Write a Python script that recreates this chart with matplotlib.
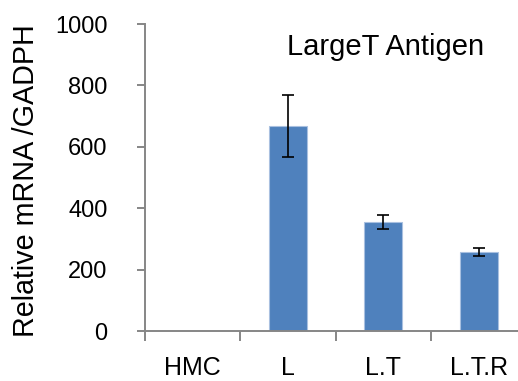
import matplotlib
matplotlib.use('Agg')
import matplotlib.pyplot as plt

plt.rcParams['font.family'] = ['Liberation Sans', 'DejaVu Sans']

groups = ['HMC', 'L', 'L.T', 'L.T.R']
expression = [0, 668, 355, 258]
errors = [0, 101, 23, 13]

axis_grey = '#868686'

fig = plt.figure(figsize=(5.18, 3.81), dpi=100)
ax = fig.add_axes([0.280, 0.131, 0.736, 0.806])

x = range(len(groups))
ax.bar(x, expression, width=0.4, color='#4F81BD', edgecolor='#A9C0E0',
       linewidth=0.8, zorder=2)
# no error bar for the empty HMC column
shown = [i for i in x if expression[i] > 0]
ax.errorbar(shown, [expression[i] for i in shown],
            yerr=[errors[i] for i in shown],
            fmt='none', ecolor='black', elinewidth=1.2, capsize=4,
            capthick=1.2, zorder=3)

ax.set_xlim(-0.5, 3.5)
ax.set_ylim(0, 1000)
ax.set_yticks(range(0, 1001, 200))
# major ticks sit between the groups, names go on the minor ones
ax.set_xticks([i + 0.5 for i in range(-1, 4)])
ax.set_xticklabels([])
ax.set_xticks(list(x), minor=True)
ax.set_xticklabels(groups, minor=True)

for side in ('top', 'right'):
    ax.spines[side].set_visible(False)
for side in ('left', 'bottom'):
    ax.spines[side].set_color(axis_grey)
    ax.spines[side].set_linewidth(1.4)

ax.tick_params(axis='y', length=6, width=1.4, color=axis_grey,
               labelsize=17, pad=21)
ax.tick_params(axis='x', which='major', length=7, width=1.4,
               color=axis_grey, direction='out')
ax.tick_params(axis='x', which='minor', length=0, labelsize=18, pad=18)

ax.set_ylabel('Relative mRNA /GADPH', fontsize=20.7)
ax.yaxis.set_label_coords(-0.275, 0.49)

ax.text(2.02, 925, 'LargeT Antigen', fontsize=21, ha='center', va='center')

fig.savefig('out.png', dpi=100)
